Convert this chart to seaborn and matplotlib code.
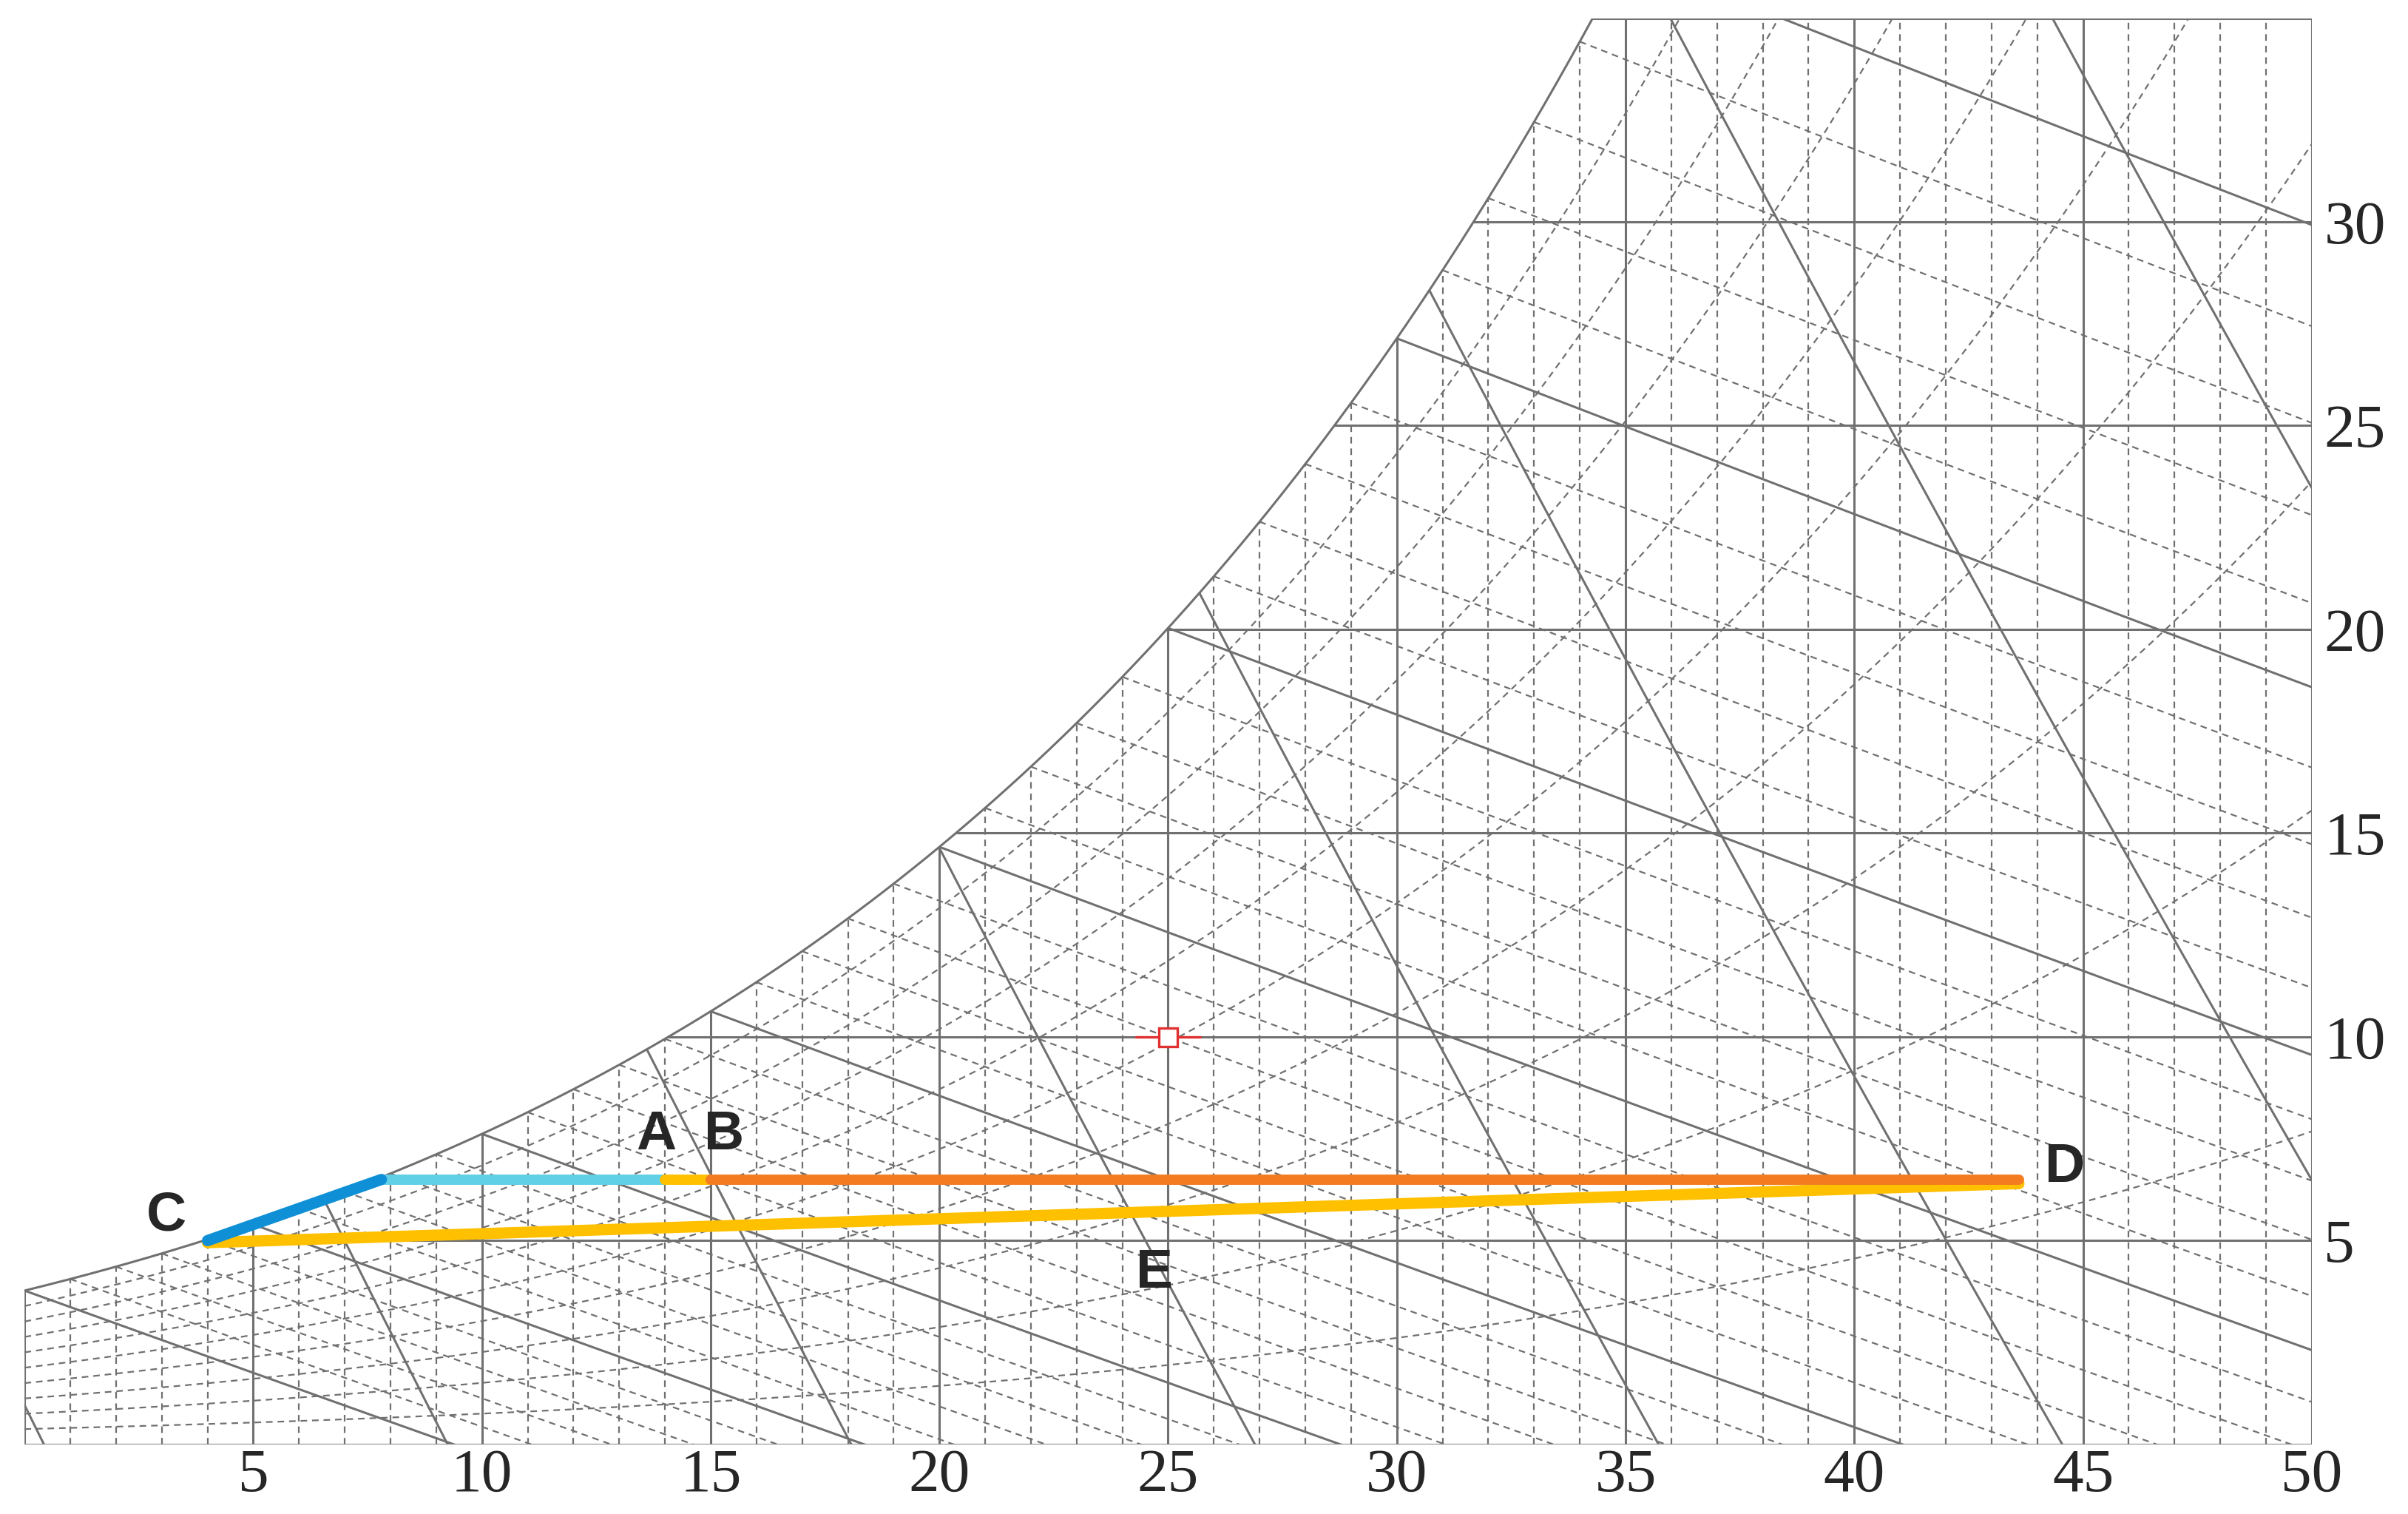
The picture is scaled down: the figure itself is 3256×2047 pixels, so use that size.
import numpy as np
import pandas as pd
import matplotlib
matplotlib.use("Agg")
import matplotlib.pyplot as plt
import seaborn as sns
from matplotlib.patches import Polygon

# chart data
x_ticks = [5, 10, 15, 20, 25, 30, 35, 40, 45, 50]
y_ticks = [5, 10, 15, 20, 25, 30]
rh_levels = [0.1, 0.2, 0.3, 0.4, 0.5, 0.6, 0.7, 0.8, 0.9]
wb_levels = list(range(0, 36))  # solid every 5
vol_levels = [0.775, 0.80, 0.825, 0.85, 0.875, 0.90, 0.925, 0.95]

# process lines (temperature, humidity ratio g/kg)
seg_cb_t, seg_cb_w = [4.0, 7.8], [5.0, 6.5]          # C -> saturation
seg_la_t, seg_la_w = [7.8, 14.0], [6.5, 6.5]         # to A
seg_ab_t, seg_ab_w = [14.0, 15.0], [6.5, 6.5]        # A -> B
seg_bd_t, seg_bd_w = [15.0, 43.6], [6.5, 6.5]        # B -> D
seg_dc_t, seg_dc_w = [43.6, 4.0], [6.4, 4.95]        # D -> C via E
labels = {"A": (13.8, 7.6), "B": (15.3, 7.6), "C": (3.1, 5.6), "D": (44.6, 6.8), "E": (24.7, 4.2)}
marker_pt = (25.0, 10.0)

sns.set_style("white")
GREY = "#707070"


def w_sat(t):
    p = 0.61094 * np.exp(17.625 * t / (t + 243.04))
    return 622.0 * p / (101.325 - p)


fig = plt.figure(figsize=(16.28, 10.235), dpi=200)
ax = fig.add_axes([0.0102, 0.046, 0.9498, 0.942])
ax.set_xlim(0, 50)
ax.set_ylim(0, 35)
for s in ax.spines.values():
    s.set_visible(False)

T = np.linspace(0, 50, 1001)
ws = w_sat(T)
tmask = ws <= 35
t_top = np.interp(35, ws, T)
sat_t = np.append(T[tmask], t_top)
sat_w = np.append(ws[tmask], 35)
clip = Polygon(np.column_stack([np.concatenate([[0, 50, 50], sat_t[::-1] if False else sat_t[::-1]][0:1] + [sat_t[::-1]]) if False else
                                np.concatenate([[50, 0, 0], sat_t, [50]]),
                                np.concatenate([[0, 0], [0], sat_w, [35]])][0:2]),
               closed=True, transform=ax.transData, facecolor="none", edgecolor="none")
ax.add_patch(clip)


def gline(x, y, solid=True):
    ln, = ax.plot(x, y, color=GREY, lw=1.1 if solid else 0.8,
                  ls="-" if solid else (0, (4, 3)), zorder=1)
    ln.set_clip_path(clip)


# dry bulb verticals
for t in range(0, 51):
    gline([t, t], [0, min(w_sat(t), 35)], solid=(t % 5 == 0))
# humidity horizontals
for w in range(5, 36, 5):
    gline([np.interp(w, ws, T), 50], [w, w])
gline([0, 50], [0, 0])
gline([50, 50], [0, 35])
# saturation curve
ax.plot(sat_t, sat_w, color=GREY, lw=1.1, zorder=1)
# RH curves
for r in rh_levels:
    p = r * 0.61094 * np.exp(17.625 * T / (T + 243.04))
    gline(T, 622.0 * p / (101.325 - p), solid=False)
# wet bulb lines
for twb in wb_levels:
    tt = np.linspace(twb, 50, 300)
    wsw = w_sat(twb) / 1000.0
    w = ((2501 - 2.326 * twb) * wsw - 1.006 * (tt - twb)) / (2501 + 1.86 * tt - 4.186 * twb) * 1000
    gline(tt, w, solid=(twb % 5 == 0))
# specific volume lines
for v in vol_levels:
    w = (v * 101.325 / (0.287042 * (T + 273.15)) - 1) / 1.6078 * 1000
    gline(T, w)

# process lines via seaborn
def seg(t, w, color, lw):
    df = pd.DataFrame({"t": t, "w": w})
    sns.lineplot(data=df, x="t", y="w", sort=False, color=color, lw=lw,
                 solid_capstyle="round", ax=ax, zorder=3)

seg(seg_dc_t, seg_dc_w, "#ffc000", 5.5)
seg(seg_la_t, seg_la_w, "#5fd0e6", 5.0)
seg(seg_ab_t, seg_ab_w, "#ffc000", 5.0)
seg(seg_bd_t, seg_bd_w, "#f47b20", 5.0)
seg(seg_cb_t, seg_cb_w, "#0f8fd6", 5.5)

for k, (x, y) in labels.items():
    ax.text(x, y, k, fontsize=27, fontweight="bold", family="Liberation Sans",
            ha="center", va="center", zorder=4)

mx, my = marker_pt
ax.plot([mx - 0.7, mx + 0.7], [my, my], color="#e03030", lw=1.2, zorder=4)
ax.plot([mx], [my], marker="s", ms=9, mfc="white", mec="#e03030", mew=1.2, zorder=5)

ax.set_xlabel("")
ax.set_ylabel("")
ax.set_xticks(x_ticks)
ax.set_xticklabels([str(v) for v in x_ticks], family="Liberation Serif", fontsize=30)
ax.yaxis.tick_right()
ax.set_yticks(y_ticks)
ax.set_yticklabels([str(v) for v in y_ticks], family="Liberation Serif", fontsize=30)
ax.tick_params(axis="both", length=0, pad=2)
ax.tick_params(axis="y", pad=6)

fig.savefig("out.png", dpi=200, facecolor="white")
